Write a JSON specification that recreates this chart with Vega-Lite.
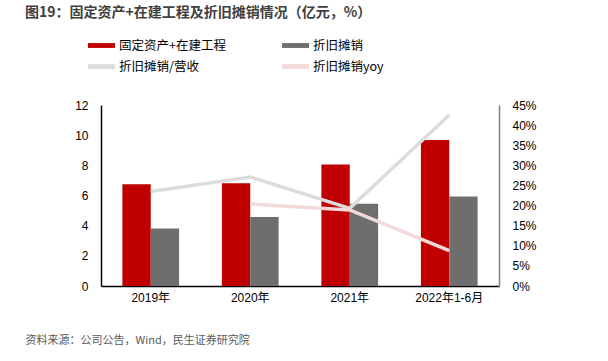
{
  "$schema": "https://vega.github.io/schema/vega-lite/v6.json",
  "autosize": "none",
  "width": 398,
  "height": 181,
  "padding": {"left": 101, "top": 105, "right": 109, "bottom": 75},
  "background": "white",
  "config": {
    "view": {"stroke": null},
    "font": "Liberation Sans, Noto Sans CJK SC",
    "axis": {"labelFont": "Liberation Sans, Noto Sans CJK SC", "labelColor": "#000000", "grid": false, "ticks": false}
  },
  "title": {
    "text": "图19：固定资产+在建工程及折旧摊销情况（亿元，%）",
    "anchor": "start",
    "frame": "group",
    "dx": -76,
    "offset": 12,
    "fontSize": 14,
    "fontWeight": "bold",
    "color": "#404040",
    "font": "Noto Sans CJK SC"
  },
  "data": {
    "values": [
      {"cat": "2019年", "series": "固定资产+在建工程", "kind": "bar", "value": 6.74},
      {"cat": "2020年", "series": "固定资产+在建工程", "kind": "bar", "value": 6.81},
      {"cat": "2021年", "series": "固定资产+在建工程", "kind": "bar", "value": 8.05},
      {"cat": "2022年1-6月", "series": "固定资产+在建工程", "kind": "bar", "value": 9.68},
      {"cat": "2019年", "series": "折旧摊销", "kind": "bar", "value": 3.81},
      {"cat": "2020年", "series": "折旧摊销", "kind": "bar", "value": 4.57},
      {"cat": "2021年", "series": "折旧摊销", "kind": "bar", "value": 5.46},
      {"cat": "2022年1-6月", "series": "折旧摊销", "kind": "bar", "value": 5.93},
      {"cat": "2019年", "series": "折旧摊销/营收", "kind": "line", "value": 0.235},
      {"cat": "2020年", "series": "折旧摊销/营收", "kind": "line", "value": 0.271},
      {"cat": "2021年", "series": "折旧摊销/营收", "kind": "line", "value": 0.193},
      {"cat": "2022年1-6月", "series": "折旧摊销/营收", "kind": "line", "value": 0.425},
      {"cat": "2020年", "series": "折旧摊销yoy", "kind": "line", "value": 0.204},
      {"cat": "2021年", "series": "折旧摊销yoy", "kind": "line", "value": 0.189},
      {"cat": "2022年1-6月", "series": "折旧摊销yoy", "kind": "line", "value": 0.088}
    ]
  },
  "encoding": {
    "x": {
      "field": "cat",
      "type": "nominal",
      "sort": ["2019年", "2020年", "2021年", "2022年1-6月"],
      "scale": {"paddingInner": 0.43, "paddingOuter": 0.215},
      "axis": {
        "labelAngle": 0,
        "labelFontSize": 12,
        "labelPadding": 6,
        "domainColor": "#000000",
        "domainWidth": 1.5,
        "title": "资料来源：公司公告，Wind，民生证券研究院",
        "titleFont": "Noto Sans CJK SC",
        "titleFontSize": 11,
        "titleFontWeight": "normal",
        "titleColor": "#595959",
        "titleAnchor": "start",
        "titleAlign": "left",
        "titleBaseline": "middle",
        "titleX": -76,
        "titleY": 54
      }
    },
    "color": {
      "field": "series",
      "type": "nominal",
      "scale": {
        "domain": ["固定资产+在建工程", "折旧摊销", "折旧摊销/营收", "折旧摊销yoy"],
        "range": ["#C00000", "#6E6E6E", "#DCDCDC", "#F2DADA"]
      },
      "legend": {
        "title": null,
        "orient": "none",
        "direction": "horizontal",
        "legendX": -13,
        "legendY": -73,
        "columns": 2,
        "columnPadding": 56,
        "rowPadding": 1,
        "symbolType": "M-1,-0.18H1V0.18H-1Z",
        "symbolSize": 729,
        "symbolStrokeWidth": 0,
        "labelFontSize": 12.5,
        "labelFont": "Noto Sans CJK SC",
        "labelColor": "#000000",
        "labelOffset": 4,
        "encode": {
          "symbols": {
            "update": {
              "fill": {"scale": "color", "field": "value"},
              "opacity": {"value": 1}
            }
          }
        }
      }
    }
  },
  "layer": [
    {
      "transform": [{"filter": "datum.kind === 'bar'"}],
      "mark": {"type": "bar"},
      "encoding": {
        "xOffset": {"field": "series", "type": "nominal", "sort": ["固定资产+在建工程", "折旧摊销"]},
        "y": {
          "field": "value",
          "type": "quantitative",
          "scale": {"domain": [0, 12]},
          "axis": {
            "values": [0, 2, 4, 6, 8, 10, 12],
            "title": null,
            "labelFontSize": 12,
            "labelPadding": 13,
            "domainColor": "#000000",
            "domainWidth": 1.5
          }
        }
      }
    },
    {
      "transform": [{"filter": "datum.kind === 'line'"}],
      "mark": {"type": "line", "strokeWidth": 3.5},
      "encoding": {
        "y": {
          "field": "value",
          "type": "quantitative",
          "scale": {"domain": [0, 0.45]},
          "axis": {
            "orient": "right",
            "values": [0, 0.05, 0.1, 0.15, 0.2, 0.25, 0.3, 0.35, 0.4, 0.45],
            "format": ".0%",
            "title": null,
            "labelFontSize": 12,
            "labelPadding": 13,
            "domainColor": "#808080",
            "domainWidth": 1.5
          }
        }
      }
    }
  ],
  "resolve": {"scale": {"y": "independent"}}
}
